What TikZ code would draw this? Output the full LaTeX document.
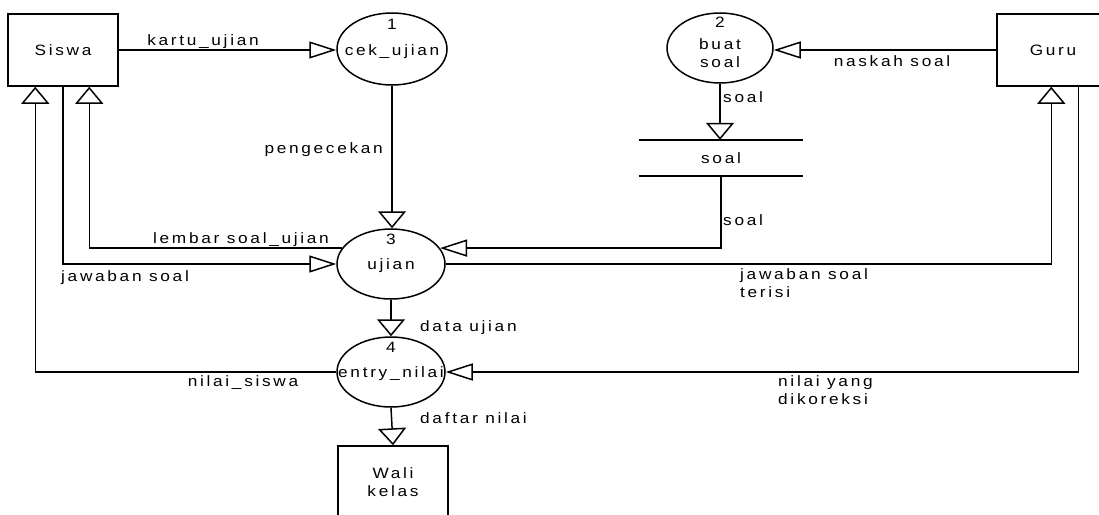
\documentclass[tikz,border=0pt]{standalone}
\usepackage{fontspec}
\setmainfont[FakeStretch=1.15,LetterSpace=18]{Liberation Sans}
\usetikzlibrary{arrows.meta,shapes.geometric,calc}
\begin{document}
\begin{tikzpicture}[x=1pt,y=-1pt,
  every node/.style={font=\fontsize{15}{18.5}\selectfont, inner sep=0pt},
  flow/.style={line width=1.5pt},
  harr/.style={-{Triangle[open,length=27pt,width=17pt,line width=1.5pt]}},
  varr/.style={-{Triangle[open,length=17pt,width=28pt,line width=1.5pt]}},
  entity/.style={draw, line width=1.5pt, minimum width=110pt, minimum height=72pt, align=center},
  proc/.style={draw, ellipse, line width=1.5pt},
  num/.style={fill=white, inner sep=1pt},
  lbl/.style={align=left}
]
\useasboundingbox (0,0) rectangle (1099,514);

% entities
\node[entity] (siswa) at (63,50) {Siswa};
\node[entity, minimum width=112pt] (guru) at (1053,50) {Guru};
\node[entity] (wali) at (393,482) {Wali\\kelas};

% processes
\node[proc, minimum width=110pt, minimum height=72pt] (p1) at (392,49) {};
\node[num] (p1n) at (392,24) {1};
\node (p1t) at (392,52) {cek\_ujian};

\node[proc, minimum width=106pt, minimum height=70pt] (p2) at (720,48) {};
\node[num] (p2n) at (720,22) {2};
\node[align=center] (p2t) at (720,53) {buat\\soal};

\node[proc, minimum width=108pt, minimum height=70pt] (p3) at (391,264) {};
\node[num] (p3n) at (391,239) {3};
\node (p3t) at (391,266) {ujian};

\node[proc, minimum width=108pt, minimum height=70pt] (p4) at (391,372) {};
\node[num] (p4n) at (391,347) {4};
\node (p4t) at (391,374) {entry\_nilai};

% data store
\node[minimum width=164pt, minimum height=36pt] (store) at (721,158) {soal};
\draw[flow] (store.north west) -- (store.north east);
\draw[flow] (store.south west) -- (store.south east);

% attachment points
\coordinate (sA) at ($(siswa.south west)+(28,0)$);
\coordinate (sC) at ($(siswa.south west)+(82,0)$);
\coordinate (gA) at ($(guru.south west)+(55,0)$);
\coordinate (gB) at ($(guru.south west)+(82,0)$);

% flows
\draw[flow,harr] (siswa.east) -- (siswa.east -| p1.west);
\draw[flow,harr] (guru.west) -- (guru.west -| p2.east);
\draw[flow,varr] (p2.south) -- (p2.south |- store.north);
\draw[flow,varr] (p1.south) -- (p1.south |- p3.north);
\draw[flow,harr] (store.south) -- (store.south |- p3.18) -- (p3.18);
\draw[flow,varr] (p3.162) -- (p3.162 -| sC) -- (sC);
\draw[flow,harr] (siswa.south) -- (siswa.south |- p3.west) -- (p3.west);
\draw[flow,varr] (p4.west) -- (p4.west -| sA) -- (sA);
\draw[flow,varr] (p3.east) -- (p3.east -| gA) -- (gA);
\draw[flow,harr] (gB) -- (gB |- p4.east) -- (p4.east);
\draw[flow,varr] (p3.south) -- (p4.north);
\draw[flow,varr] (p4.south) -- (wali.north);

% labels
\node (l1) at (203,42) {kartu\_ujian};
\node (l2) at (892,61) {naskah soal};
\node[anchor=west] (l3) at (723,97) {soal};
\node[anchor=east] (l4) at (383,150) {pengecekan};
\node[anchor=west] (l5) at (723,220) {soal};
\node (l6) at (241,240) {lembar soal\_ujian};
\node[anchor=west] (l7) at (61,278) {jawaban soal};
\node (l8) at (243,383) {nilai\_siswa};
\node[lbl, anchor=north west] (l9) at (740,268) {jawaban soal\\terisi};
\node[lbl, anchor=north west] (l10) at (778,375) {nilai yang\\dikoreksi};
\node[anchor=west] (l11) at (420,328) {data ujian};
\node[anchor=west] (l12) at (420,418) {daftar nilai};
\end{tikzpicture}
\end{document}
